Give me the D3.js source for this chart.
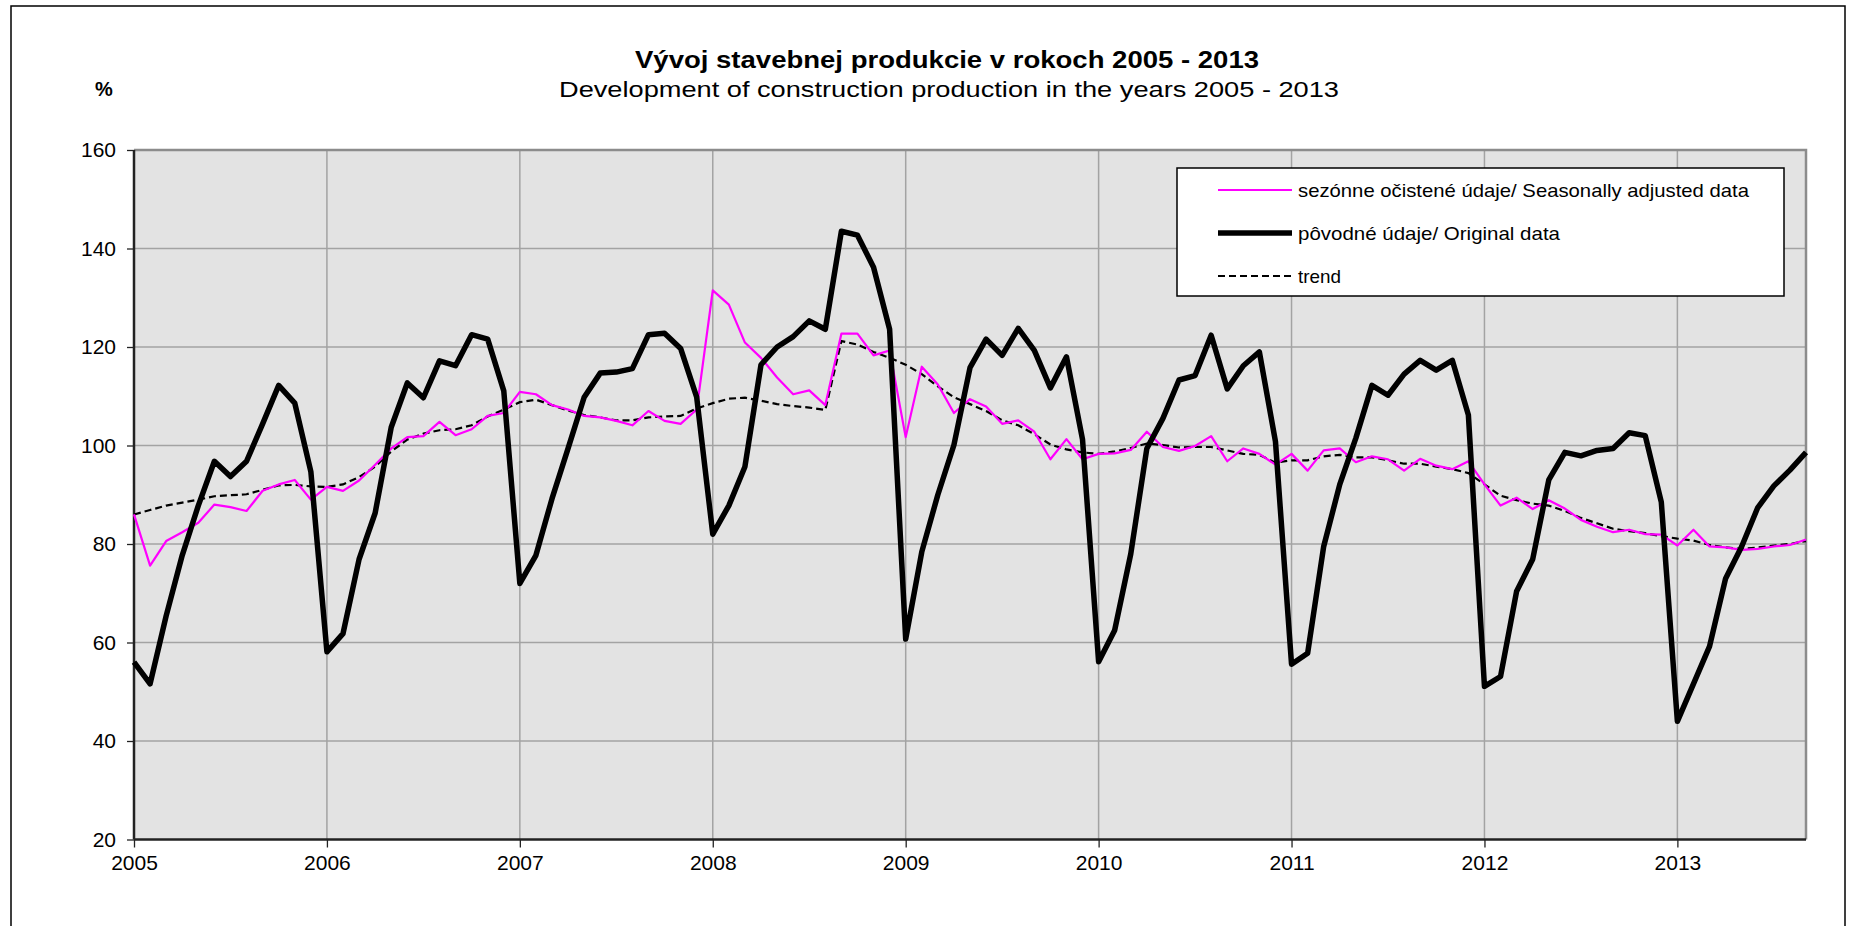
<!DOCTYPE html>
<html>
<head>
<meta charset="utf-8">
<script src="https://cdn.jsdelivr.net/npm/d3@7"></script>
<style>
  body { margin: 0; background: #fff; }
  svg { display: block; font-family: "Liberation Sans", Arial, sans-serif; }
</style>
</head>
<body>
<svg id="chart" width="1854" height="926"></svg>
<script>
// year labels on the category axis (one tick every 12 months)
const years = ['2005', '2006', '2007', '2008', '2009', '2010', '2011', '2012', '2013'];
const yTicks = [20, 40, 60, 80, 100, 120, 140, 160];

// monthly values, Jan 2005 - Sep 2013
const original = [
  56.0, 51.6, 65.4, 77.7, 87.8, 96.8, 93.7, 96.8, 104.4, 112.2, 108.6, 94.7,
  58.1, 61.8, 76.9, 86.3, 103.7, 112.7, 109.7, 117.2, 116.2, 122.5, 121.6, 111.1,
  72.0, 77.7, 89.2, 99.4, 109.8, 114.7, 114.9, 115.6, 122.5, 122.8, 119.7, 109.8,
  82.0, 87.8, 95.7, 116.4, 120.0, 122.1, 125.3, 123.6, 143.5, 142.7, 136.2, 123.6,
  60.7, 78.4, 90.0, 100.1, 115.8, 121.6, 118.3, 123.8, 119.3, 111.7, 118.0, 101.2,
  56.1, 62.5, 78.0, 99.4, 105.5, 113.3, 114.2, 122.4, 111.5, 116.2, 119.0, 100.8,
  55.6, 57.8, 79.5, 92.1, 101.5, 112.2, 110.2, 114.5, 117.3, 115.3, 117.3, 106.2,
  51.1, 53.1, 70.4, 76.9, 93.0, 98.6, 97.9, 99.0, 99.4, 102.6, 102.0, 88.5,
  44.0, 51.6, 59.2, 73.0, 79.5, 87.4, 91.8, 95.0, 98.6
];
const seasonal = [
  86.0, 75.6, 80.6, 82.4, 84.3, 88.0, 87.5, 86.7, 90.8, 92.1, 93.0, 89.0,
  91.6, 90.8, 92.9, 96.1, 99.4, 101.7, 101.9, 104.8, 102.1, 103.3, 106.0, 106.6,
  110.9, 110.4, 108.2, 107.3, 106.0, 105.7, 105.0, 104.1, 107.0, 105.0, 104.4, 107.3,
  131.5, 128.6, 120.9, 117.8, 113.8, 110.4, 111.2, 108.2, 122.7, 122.7, 118.3, 119.3,
  101.7, 116.0, 112.4, 106.6, 109.4, 107.9, 104.4, 105.1, 102.8, 97.2, 101.3, 97.2,
  98.3, 98.4, 99.1, 102.8, 99.7, 98.9, 99.9, 101.9, 96.8, 99.4, 98.3, 96.1,
  98.3, 94.9, 99.0, 99.4, 96.6, 97.8, 97.2, 94.9, 97.3, 95.9, 95.2, 96.8,
  92.1, 87.8, 89.4, 87.1, 88.9, 87.2, 84.9, 83.5, 82.4, 82.9, 82.0, 81.9,
  79.7, 82.9, 79.5, 79.3, 78.8, 79.0, 79.5, 79.8, 80.9
];
const trend = [
  86.0, 86.9, 87.8, 88.4, 89.0, 89.7, 89.9, 90.1, 91.0, 91.9, 92.0, 91.7,
  91.6, 92.1, 93.6, 95.7, 98.8, 101.2, 102.4, 103.1, 103.3, 104.1, 105.9, 107.3,
  108.8, 109.3, 108.2, 107.1, 106.2, 105.7, 105.1, 105.1, 105.7, 105.9, 106.0, 107.5,
  108.6, 109.5, 109.7, 109.1, 108.4, 108.0, 107.7, 107.2, 121.2, 120.5, 119.0, 117.8,
  116.4, 114.5, 112.0, 109.8, 108.4, 107.0, 105.1, 104.1, 102.3, 100.2, 99.2, 98.6,
  98.3, 98.8, 99.5, 100.4, 100.1, 99.6, 99.7, 99.7, 99.0, 98.3, 98.1, 96.5,
  97.0, 97.0, 97.8, 98.1, 97.6, 97.6, 97.0, 96.3, 96.3, 95.7, 95.2, 94.4,
  92.1, 89.8, 88.9, 88.2, 87.8, 86.7, 85.3, 84.2, 83.1, 82.6, 82.2, 81.6,
  81.1, 80.7, 79.8, 79.3, 79.0, 79.3, 79.7, 80.0, 80.6
];

const svg = d3.select('#chart');

// outer frame of the chart object
svg.append('rect')
  .attr('x', 11).attr('y', 6)
  .attr('width', 1834).attr('height', 940)
  .attr('fill', 'none').attr('stroke', '#000').attr('stroke-width', 1.5);

const margin = { left: 134, top: 150, right: 48, bottom: 86.5 };
const w = 1854 - margin.left - margin.right;
const h = 926 - margin.top - margin.bottom;

const g = svg.append('g').attr('transform', `translate(${margin.left},${margin.top})`);

const x = d3.scaleLinear().domain([0, original.length - 1]).range([0, w]);
const y = d3.scaleLinear().domain([20, 160]).range([h, 0]);

// plot area
g.append('rect').attr('width', w).attr('height', h).attr('fill', '#e3e3e3');

// gridlines
g.append('g')
  .selectAll('line')
  .data(yTicks.slice(1, -1))
  .join('line')
  .attr('x1', 0).attr('x2', w)
  .attr('y1', d => y(d)).attr('y2', d => y(d))
  .attr('stroke', '#a3a3a3').attr('stroke-width', 1.5);

g.append('g')
  .selectAll('line')
  .data(years.slice(1).map((d, i) => (i + 1) * 12))
  .join('line')
  .attr('x1', d => x(d)).attr('x2', d => x(d))
  .attr('y1', 0).attr('y2', h)
  .attr('stroke', '#a3a3a3').attr('stroke-width', 1.5);

// plot border (top/right)
g.append('path')
  .attr('d', `M0,0H${w}V${h}`)
  .attr('fill', 'none').attr('stroke', '#8c8c8c').attr('stroke-width', 2.5);

// axes
const yAxis = d3.axisLeft(y).tickValues(yTicks).tickSize(7).tickPadding(11);
const xAxis = d3.axisBottom(x)
  .tickValues(years.map((d, i) => i * 12))
  .tickFormat((d, i) => years[i])
  .tickSize(8).tickPadding(8);

const gy = g.append('g').call(yAxis);
const gx = g.append('g').attr('transform', `translate(0,${h})`).call(xAxis);

[gx, gy].forEach(a => {
  a.select('.domain').attr('stroke', '#222').attr('stroke-width', 2.5);
  a.selectAll('.tick line').attr('stroke', '#222').attr('stroke-width', 1.3);
  a.selectAll('.tick text')
    .attr('fill', '#000')
    .style('font-size', '21px')
    .style('font-family', '"Liberation Sans", Arial, sans-serif');
});
gx.select('.domain').attr('d', `M0,0H${w}`);
gy.select('.domain').attr('d', `M0,${h}V0`);

// series
const line = d3.line().x((d, i) => x(i)).y(d => y(d));

g.append('path').datum(trend)
  .attr('d', line)
  .attr('fill', 'none').attr('stroke', '#000')
  .attr('stroke-width', 2.2).attr('stroke-dasharray', '7,4');

g.append('path').datum(seasonal)
  .attr('d', line)
  .attr('fill', 'none').attr('stroke', '#ff00ff')
  .attr('stroke-width', 2.2).attr('stroke-linejoin', 'round');

g.append('path').datum(original)
  .attr('d', line)
  .attr('fill', 'none').attr('stroke', '#000')
  .attr('stroke-width', 5.5).attr('stroke-linejoin', 'round');

// titles
svg.append('text')
  .attr('x', 947).attr('y', 68)
  .attr('text-anchor', 'middle')
  .attr('textLength', 624).attr('lengthAdjust', 'spacingAndGlyphs')
  .style('font-size', '23px').style('font-weight', 'bold')
  .text('Vývoj stavebnej produkcie v rokoch 2005 - 2013');

svg.append('text')
  .attr('x', 949).attr('y', 97)
  .attr('text-anchor', 'middle')
  .attr('textLength', 780).attr('lengthAdjust', 'spacingAndGlyphs')
  .style('font-size', '22.5px')
  .text('Development of construction production in the years 2005 - 2013');

svg.append('text')
  .attr('x', 95).attr('y', 96)
  .style('font-size', '20px').style('font-weight', 'bold')
  .text('%');

// legend
const legendItems = [
  { label: 'sezónne očistené údaje/ Seasonally adjusted data', color: '#ff00ff', width: 2.2, dash: null, len: 451 },
  { label: 'pôvodné údaje/ Original data', color: '#000', width: 5.5, dash: null, len: 262 },
  { label: 'trend', color: '#000', width: 2.2, dash: '7,4', len: 43 }
];

const lg = svg.append('g').attr('transform', 'translate(1177,168)');
lg.append('rect')
  .attr('width', 607).attr('height', 128)
  .attr('fill', '#fff').attr('stroke', '#000').attr('stroke-width', 1.5);

const rows = lg.selectAll('g.item')
  .data(legendItems)
  .join('g')
  .attr('class', 'item')
  .attr('transform', (d, i) => `translate(0,${22 + i * 43})`);

rows.append('line')
  .attr('x1', 41).attr('x2', 115)
  .attr('stroke', d => d.color)
  .attr('stroke-width', d => d.width)
  .attr('stroke-dasharray', d => d.dash);

rows.append('text')
  .attr('x', 121).attr('dy', '0.35em')
  .attr('textLength', d => d.len).attr('lengthAdjust', 'spacingAndGlyphs')
  .style('font-size', '19px')
  .text(d => d.label);
</script>
</body>
</html>
